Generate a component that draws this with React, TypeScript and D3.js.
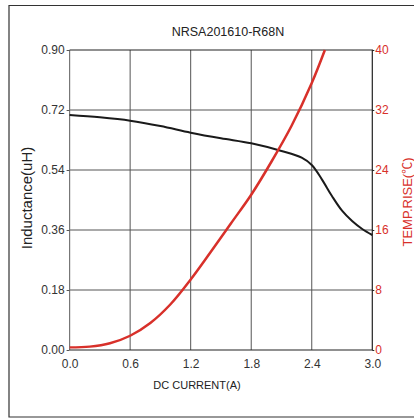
import React, { useRef, useEffect } from 'react';
import * as d3 from 'd3';

const currentTicks = [0, 0.6, 1.2, 1.8, 2.4, 3.0];
const inductanceTicks = [0, 0.18, 0.36, 0.54, 0.72, 0.9];
const tempTicks = [0, 8, 16, 24, 32, 40];

// inductance curve (uH vs A)
const indCurrent = [0, 0.3, 0.6, 0.9, 1.2, 1.5, 1.8, 2.1, 2.3, 2.4, 2.5, 2.6, 2.7, 2.8, 2.9, 3.0];
const indValue = [0.705, 0.698, 0.688, 0.672, 0.652, 0.635, 0.62, 0.597, 0.577, 0.555, 0.512, 0.462, 0.418, 0.387, 0.363, 0.345];

// temperature rise curve (C vs A)
const tempCurrent = [0, 0.2, 0.4, 0.6, 0.8, 1.0, 1.2, 1.4, 1.6, 1.8, 2.0, 2.2, 2.4, 2.53];
const tempValue = [0.35, 0.45, 0.9, 1.9, 3.6, 6.1, 9.4, 13.1, 16.9, 20.7, 25.1, 29.9, 35.6, 40];

const RED = '#d8302a';

const App: React.FC = () => {
  const svgRef = useRef<SVGSVGElement | null>(null);

  useEffect(() => {
    if (!svgRef.current) return;
    const svg = d3.select(svgRef.current);
    svg.selectAll('*').remove();

    const left = 69.6, right = 372.3, top = 50, bottom = 350;
    const x = d3.scaleLinear().domain([0, 3]).range([left, right]);
    const yL = d3.scaleLinear().domain([0, 0.9]).range([bottom, top]);
    const yR = d3.scaleLinear().domain([0, 40]).range([bottom, top]);
    const font = 'Liberation Sans, Arial, sans-serif';

    // outer frame (open on the right)
    svg.append('path')
      .attr('d', `M414,5.5 H9 V417 H414`)
      .attr('fill', 'none')
      .attr('stroke', '#333')
      .attr('stroke-width', 1.2);

    svg.append('text')
      .attr('x', 228).attr('y', 36)
      .attr('text-anchor', 'middle')
      .style('font-family', font)
      .style('font-size', '12.5px')
      .attr('fill', '#222')
      .text('NRSA201610-R68N');

    // grid
    const grid = svg.append('g').attr('stroke', '#555').attr('stroke-width', 1);
    currentTicks.slice(1, -1).forEach(t => {
      grid.append('line').attr('x1', x(t)).attr('x2', x(t)).attr('y1', top).attr('y2', bottom);
    });
    inductanceTicks.slice(1, -1).forEach(t => {
      grid.append('line').attr('x1', left).attr('x2', right).attr('y1', yL(t)).attr('y2', yL(t));
    });

    // frame of plot
    svg.append('line').attr('x1', left).attr('x2', left).attr('y1', top).attr('y2', bottom).attr('stroke', '#777').attr('stroke-width', 1.2);
    svg.append('path')
      .attr('d', `M${left},${top} H${right} V${bottom} H${left}`)
      .attr('fill', 'none').attr('stroke', '#222').attr('stroke-width', 1.2);

    // left axis
    const gL = svg.append('g').attr('transform', `translate(${left},0)`)
      .call(d3.axisLeft(yL).tickValues(inductanceTicks).tickFormat(d3.format('.2f')).tickSize(3).tickPadding(2));
    gL.select('.domain').remove();
    gL.selectAll('line').attr('stroke', '#555');
    gL.selectAll('text').style('font-family', font).style('font-size', '12px').attr('fill', '#333');

    // right axis
    const gR = svg.append('g').attr('transform', `translate(${right},0)`)
      .call(d3.axisRight(yR).tickValues(tempTicks).tickSize(2).tickPadding(1));
    gR.select('.domain').remove();
    gR.selectAll('line').attr('stroke', '#222');
    gR.selectAll('text').style('font-family', font).style('font-size', '12px').attr('fill', RED);

    // bottom axis
    const gB = svg.append('g').attr('transform', `translate(0,${bottom})`)
      .call(d3.axisBottom(x).tickValues(currentTicks).tickFormat(d3.format('.1f')).tickSize(0).tickPadding(9.5));
    gB.select('.domain').remove();
    gB.selectAll('text').style('font-family', font).style('font-size', '12px').attr('fill', '#333');

    // axis titles
    svg.append('text')
      .attr('x', 197).attr('y', 388.5)
      .attr('text-anchor', 'middle')
      .style('font-family', font).style('font-size', '11px').attr('fill', '#222')
      .text('DC CURRENT(A)');

    svg.append('text')
      .attr('transform', 'translate(32,198) rotate(-90)')
      .attr('text-anchor', 'middle')
      .style('font-family', font).style('font-size', '15px').attr('fill', '#222')
      .text('Inductance(uH)');

    const tr = svg.append('text')
      .attr('transform', 'translate(411.5,202) rotate(-90)')
      .attr('text-anchor', 'middle')
      .style('font-family', font).style('font-size', '13px').attr('fill', RED);
    tr.append('tspan').text('TEMP.RISE(');
    tr.append('tspan').style('font-family', 'Noto Sans CJK SC, sans-serif').style('font-size', '12px').text('℃');
    tr.append('tspan').text(')');

    // curves
    const indLine = d3.line<number>()
      .x((_, i) => x(indCurrent[i]))
      .y(d => yL(d))
      .curve(d3.curveCatmullRom.alpha(0.5));
    svg.append('path')
      .attr('d', indLine(indValue))
      .attr('fill', 'none').attr('stroke', '#1a1a1a').attr('stroke-width', 2);

    const tempLine = d3.line<number>()
      .x((_, i) => x(tempCurrent[i]))
      .y(d => yR(d))
      .curve(d3.curveCatmullRom.alpha(0.5));
    svg.append('path')
      .attr('d', tempLine(tempValue))
      .attr('fill', 'none').attr('stroke', RED).attr('stroke-width', 2.5);
  }, []);

  return (
    <svg
      ref={svgRef}
      width={414}
      height={419}
      style={{ position: 'absolute', left: 0, top: 0, background: '#fff' }}
    />
  );
};

export default App;
